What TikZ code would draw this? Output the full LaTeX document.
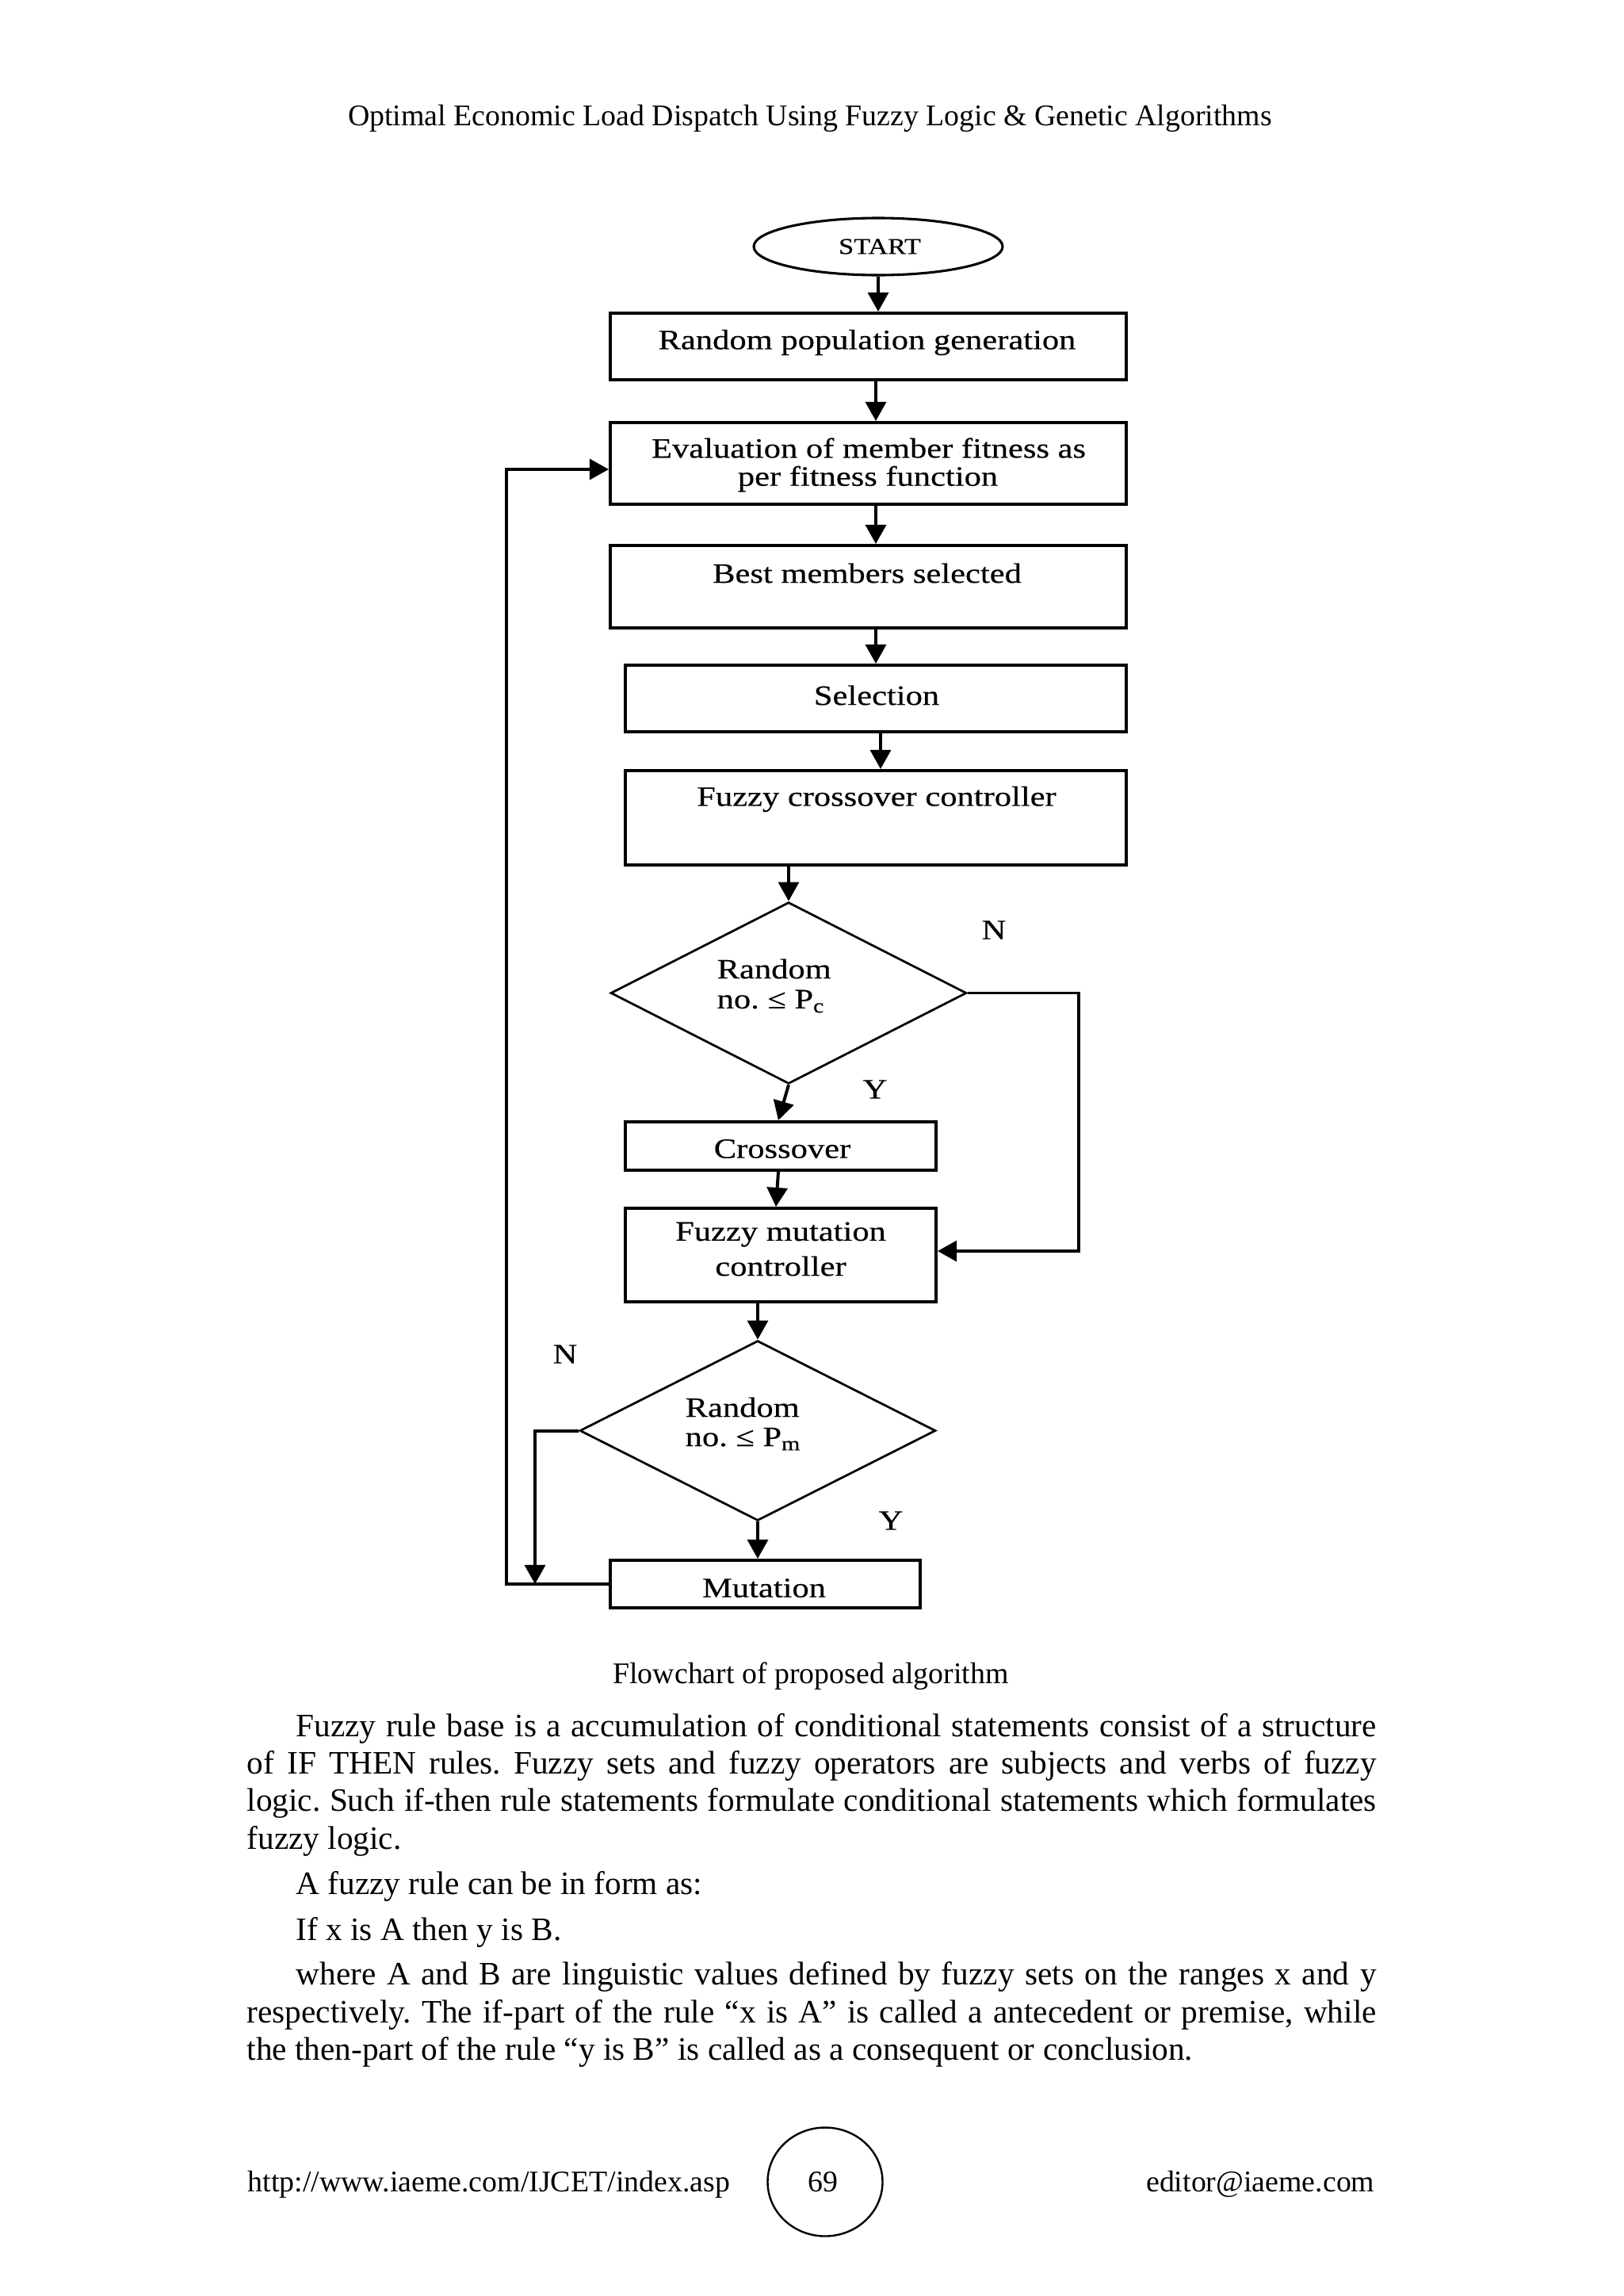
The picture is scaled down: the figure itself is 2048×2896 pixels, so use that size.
\documentclass[tikz,border=0pt]{standalone}
\usepackage{fontspec}
\setmainfont{Liberation Serif}
\newfontfamily\flowf[FakeStretch=1.2,FakeBold=0.4]{Liberation Serif}
\usetikzlibrary{arrows.meta,shapes.geometric,calc}
\newcommand\pxu{0.29066pt}
\newlength\bodyw \setlength\bodyw{414.19pt}
\newlength\indw \setlength\indw{396.17pt}
\frenchspacing
\begin{document}
\begin{tikzpicture}[x=0.29066pt,y=-0.29066pt,
  box/.style={draw, line width=1.15pt, inner sep=0pt},
  dia/.style={draw, diamond, line width=0.8pt, inner sep=0pt},
  arr/.style={line width=1.15pt, -{Triangle[length=7pt,width=7.5pt]}},
  ftxt/.style={font=\flowf\fontsize{10.3}{12}\selectfont, inner sep=0pt},
  ptxt/.style={font=\fontsize{11}{13.8}\selectfont, inner sep=0pt},
  btxt/.style={font=\frenchspacing\fontsize{12}{13.8}\selectfont, inner sep=0pt}]
\fill[white] (0,0) rectangle (2048,2896);
\useasboundingbox (0,0) rectangle (2048,2896);

% header
\node[ptxt, anchor=base] (hdr) at (1022,158) {Optimal Economic Load Dispatch Using Fuzzy Logic \& Genetic Algorithms};

% flowchart shapes
\node[draw, ellipse, line width=0.9pt, inner sep=0pt, minimum width=314*\pxu, minimum height=72*\pxu] (start) at (1108,311) {};
\node[box, minimum width=651*\pxu, minimum height=84*\pxu] (rand) at (1095.5,437) {};
\node[box, minimum width=651*\pxu, minimum height=103*\pxu] (eval) at (1095.5,584.5) {};
\node[box, minimum width=651*\pxu, minimum height=104*\pxu] (best) at (1095.5,740) {};
\node[box, minimum width=632*\pxu, minimum height=84*\pxu] (sel) at (1105,881) {};
\node[box, minimum width=632*\pxu, minimum height=119*\pxu] (fcc) at (1105,1031.5) {};
\node[dia, minimum width=449*\pxu, minimum height=229*\pxu] (dia1) at (995,1252.5) {};
\node[box, minimum width=392*\pxu, minimum height=61*\pxu] (cross) at (985,1445.5) {};
\node[box, minimum width=392*\pxu, minimum height=118*\pxu] (fmc) at (985,1583) {};
\node[dia, minimum width=449*\pxu, minimum height=227*\pxu] (dia2) at (956,1804.5) {};
\node[box, minimum width=391*\pxu, minimum height=60*\pxu] (mut) at (965.5,1998) {};

% flowchart texts
\node[ftxt, font=\flowf\fontsize{8.3}{9}\selectfont] (tstart) at (1110,311) {START};
\node[ftxt] (trand) at (1094,432) {Random population generation};
\node[ftxt] (teval1) at (1096,565) {Evaluation of member fitness as};
\node[ftxt] (teval2) at (1095,604) {per fitness function};
\node[ftxt] (tbest) at (1094,723) {Best members selected};
\node[ftxt] (tsel) at (1106,877) {Selection};
\node[ftxt] (tfcc) at (1106,1008) {Fuzzy crossover controller};
\node[ftxt, anchor=west] (td1a) at (904,1222) {Random};
\node[ftxt, anchor=west] (td1b) at (904,1263) {no. ≤ P\textsubscript{c}};
\node[ftxt] (tcross) at (987,1449) {Crossover};
\node[ftxt] (tfmc1) at (985,1557) {Fuzzy mutation};
\node[ftxt] (tfmc2) at (985,1597) {controller};
\node[ftxt, anchor=west] (td2a) at (864,1775) {Random};
\node[ftxt, anchor=west] (td2b) at (864,1815) {no. ≤ P\textsubscript{m}};
\node[ftxt] (tmut) at (964,2003) {Mutation};
\node[ftxt] (ln1) at (1254,1173) {N};
\node[ftxt] (ly1) at (1104,1374) {Y};
\node[ftxt] (ln2) at (713,1708) {N};
\node[ftxt] (ly2) at (1124,1918) {Y};

% helper coordinates
\coordinate (spine) at (1105,0);
\coordinate (spine2) at (1111,0);
\coordinate (rx) at (1361,1578);
\coordinate (nx) at (675,1998);
\coordinate (lx) at (639,592);

% connectors
\draw[arr] (start.south) -- (start.south |- rand.north);
\draw[arr] (rand.south -| spine) -- (eval.north -| spine);
\draw[arr] (eval.south -| spine) -- (best.north -| spine);
\draw[arr] (best.south -| spine) -- (sel.north -| spine);
\draw[arr] (sel.south -| spine2) -- (fcc.north -| spine2);
\draw[arr] (fcc.south -| dia1.north) -- (dia1.north);
\draw[arr] (dia1.south) -- ([xshift=-3*\pxu]cross.north);
\draw[arr] ([xshift=-3*\pxu]cross.south) -- ([xshift=-6*\pxu]fmc.north);
\draw[arr] (fmc.south -| dia2.north) -- (dia2.north);
\draw[arr] (dia2.south) -- (dia2.south |- mut.north);
\draw[arr] (dia1.east) -| (rx) -- (fmc.east |- rx);
\draw[arr] (dia2.west) -| (nx);
\draw[arr] (mut.west) -| (lx) -- (eval.west |- lx);

% caption
\node[ptxt, anchor=base] (cap) at (1023,2123) {Flowchart of proposed algorithm};

% body text
\node[btxt, anchor=base west] (b1) at (373,2190) {\makebox[\indw][s]{Fuzzy rule base is a accumulation of conditional statements consist of a structure}};
\node[btxt, anchor=base west] (b2) at (311,2237) {\makebox[\bodyw][s]{of IF THEN rules. Fuzzy sets and fuzzy operators are subjects and verbs of fuzzy}};
\node[btxt, anchor=base west] (b3) at (311,2284) {\makebox[\bodyw][s]{logic. Such if-then rule statements formulate conditional statements which formulates}};
\node[btxt, anchor=base west] (b4) at (311,2332) {fuzzy logic.};
\node[btxt, anchor=base west] (b5) at (373,2389) {A fuzzy rule can be in form as:};
\node[btxt, anchor=base west] (b6) at (373,2447) {If x is A then y is B.};
\node[btxt, anchor=base west] (b7) at (373,2503) {\makebox[\indw][s]{where A and B are linguistic values defined by fuzzy sets on the ranges x and y}};
\node[btxt, anchor=base west] (b8) at (311,2551) {\makebox[\bodyw][s]{respectively. The if-part of the rule “x is A” is called a antecedent or premise, while}};
\node[btxt, anchor=base west] (b9) at (311,2598) {the then-part of the rule “y is B” is called as a consequent or conclusion.};

% footer
\node[ptxt, anchor=base west] (url) at (312,2764) {http://www.iaeme.com/IJCET/index.asp};
\node[draw, ellipse, line width=0.7pt, inner sep=0pt, minimum width=145*\pxu, minimum height=137*\pxu] (pgc) at (1041,2752) {};
\node[ptxt, anchor=base] (pgn) at (1038,2764) {69};
\node[ptxt, anchor=base east] (mail) at (1735,2764) {editor@iaeme.com};
\end{tikzpicture}
\end{document}
